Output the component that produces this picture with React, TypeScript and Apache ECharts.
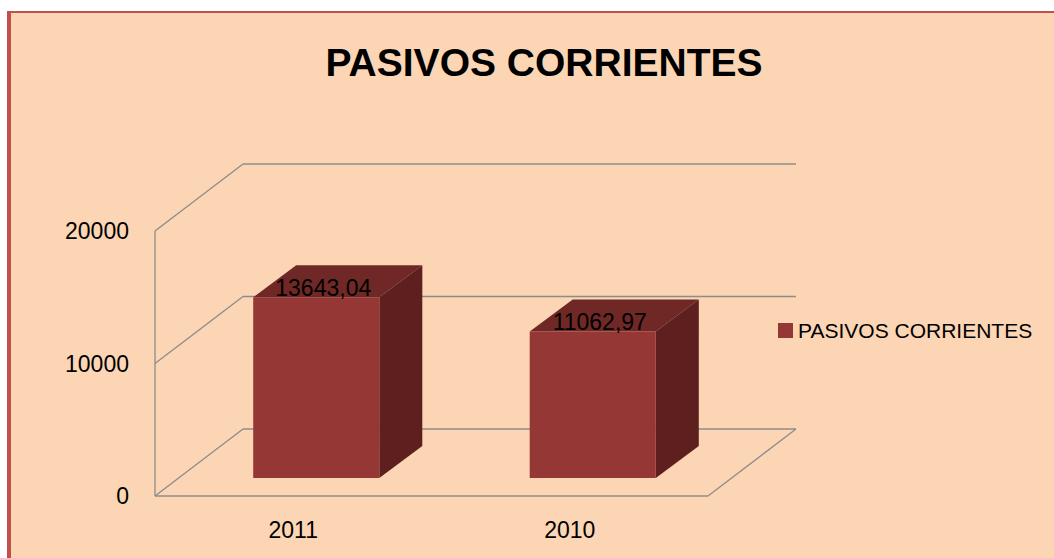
import React, { useEffect, useRef } from "react";
import * as echarts from "echarts";

const categories = ["2011", "2010"];
const values = [13643.04, 11062.97];
const yTicks = [0, 10000, 20000];
const seriesName = "PASIVOS CORRIENTES";
const titleText = "PASIVOS CORRIENTES";

const FRONT = "#953735";
const TOP = "#6F2826";
const SIDE = "#5E1F1F";
const FRAME = "#8C8C8C";
const BG = "#FCD5B5";
const BORDER = "#C0504D";
const FONT = "'Liberation Sans', Arial, sans-serif";

// 3D offsets (pixels)
const WALL_DX = 88, WALL_DY = -67; // back wall depth
const FACE_DX = 23, FACE_DY = -18; // bar front face depth
const BAR_DX = 43, BAR_DY = -32; // bar depth

const fmt = (v: number) => v.toFixed(2).replace(".", ",");

export default function App() {
  const ref = useRef<HTMLDivElement>(null);
  useEffect(() => {
    if (!ref.current) return;
    const chart = echarts.init(ref.current, undefined, { renderer: "svg" });
    chart.setOption({
      animation: false,
      graphic: [
        { type: "rect", z: 0, silent: true, shape: { x: 11, y: 13, width: 1043, height: 545 }, style: { fill: BG } },
        { type: "rect", z: 0, silent: true, shape: { x: 7, y: 11, width: 4, height: 547 }, style: { fill: BORDER } },
        { type: "rect", z: 0, silent: true, shape: { x: 7, y: 11, width: 1047, height: 2 }, style: { fill: BORDER } },
      ],
      title: {
        text: titleText,
        left: 544,
        top: 43,
        padding: 0,
        textAlign: "center",
        textStyle: { fontSize: 39, fontWeight: "bold", fontFamily: FONT, color: "#000" },
      },
      legend: {
        data: [seriesName],
        left: 778,
        top: 320,
        padding: 0,
        icon: "rect",
        itemWidth: 15,
        itemHeight: 15,
        textStyle: { fontSize: 21, fontFamily: FONT, color: "#000" },
      },
      grid: { left: 155, right: 346, top: 231, bottom: 62, containLabel: false },
      xAxis: {
        type: "category",
        data: categories,
        axisLine: { show: false },
        axisTick: { show: false },
        axisLabel: { fontSize: 23, fontFamily: FONT, color: "#000", margin: 22 },
      },
      yAxis: {
        type: "value",
        min: 0,
        max: 20000,
        interval: 10000,
        splitLine: { show: false },
        axisLine: { show: false },
        axisTick: { show: false },
        axisLabel: {
          fontSize: 23,
          fontFamily: FONT,
          color: "#000",
          margin: 26,
          formatter: (v: number) => String(v),
        },
      },
      series: [
        {
          type: "custom",
          name: "frame",
          silent: true,
          clip: false,
          z: 1,
          data: yTicks.map((v) => [0, v]),
          renderItem: (params: any, api: any) => {
            const cs = params.coordSys;
            const x0 = cs.x;
            const x1 = cs.x + cs.width;
            const v = api.value(1);
            const y = api.coord([0, v])[1];
            const st = { stroke: FRAME, lineWidth: 1.3, fill: "none" };
            const children: any[] = [
              { type: "line", shape: { x1: x0, y1: y, x2: x0 + WALL_DX, y2: y + WALL_DY }, style: st },
              { type: "line", shape: { x1: x0 + WALL_DX, y1: y + WALL_DY, x2: x1 + WALL_DX, y2: y + WALL_DY }, style: st },
            ];
            if (v === yTicks[0]) {
              children.push({ type: "line", shape: { x1: x0, y1: y, x2: x1, y2: y }, style: st });
              children.push({ type: "line", shape: { x1: x1, y1: y, x2: x1 + WALL_DX, y2: y + WALL_DY }, style: st });
            }
            if (v === yTicks[yTicks.length - 1]) {
              children.push({ type: "line", shape: { x1: x0, y1: y, x2: x0, y2: cs.y + cs.height }, style: st });
            }
            return { type: "group", children };
          },
        },
        {
          type: "custom",
          name: seriesName,
          clip: false,
          z: 3,
          itemStyle: { color: FRONT },
          data: values.map((v, i) => [i, v]),
          renderItem: (params: any, api: any) => {
            const idx = api.value(0);
            const val = api.value(1);
            const top = api.coord([idx, val]);
            const base = api.coord([idx, 0]);
            const w = api.size([1, 0])[0] * 0.456;
            const cx = top[0] + FACE_DX;
            const xl = cx - w / 2;
            const xr = cx + w / 2;
            const yt = top[1] + FACE_DY;
            const yb = base[1] + FACE_DY;
            return {
              type: "group",
              children: [
                {
                  type: "polygon",
                  shape: { points: [[xl, yt], [xr, yt], [xr + BAR_DX, yt + BAR_DY], [xl + BAR_DX, yt + BAR_DY]] },
                  style: { fill: TOP },
                },
                {
                  type: "polygon",
                  shape: { points: [[xr, yt], [xr + BAR_DX, yt + BAR_DY], [xr + BAR_DX, yb + BAR_DY], [xr, yb]] },
                  style: { fill: SIDE },
                },
                { type: "rect", shape: { x: xl, y: yt, width: w, height: yb - yt }, style: { fill: FRONT } },
                {
                  type: "text",
                  x: cx + 7,
                  y: yt - 9,
                  style: {
                    text: fmt(val),
                    fill: "#000",
                    fontSize: 23,
                    fontFamily: FONT,
                    textAlign: "center",
                    textVerticalAlign: "middle",
                  },
                },
              ],
            };
          },
        },
      ],
    });
    return () => chart.dispose();
  }, []);
  return (
    <div
      ref={ref}
      style={{ position: "fixed", left: 0, top: 0, width: 1054, height: 558, background: "#fff" }}
    />
  );
}
